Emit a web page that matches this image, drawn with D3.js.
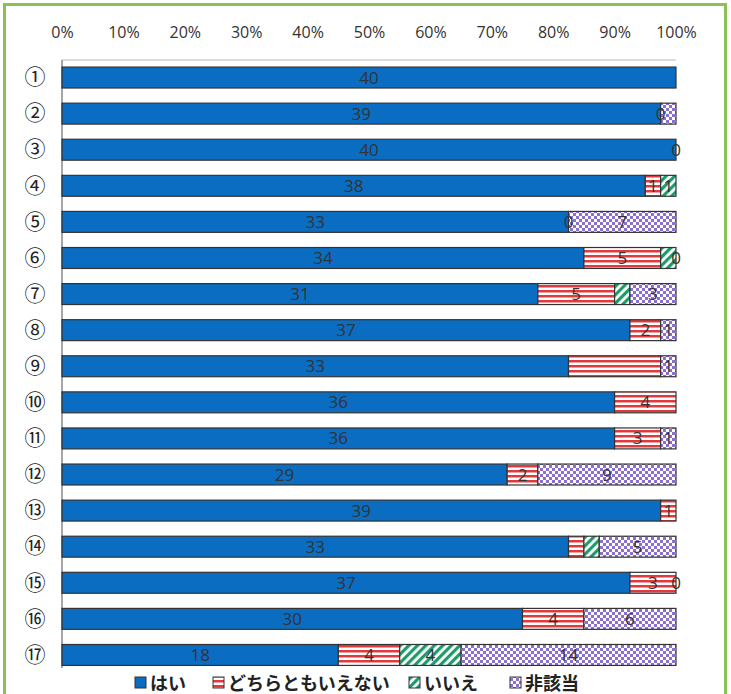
<!DOCTYPE html>
<html><head><meta charset="utf-8">
<script src="https://cdn.jsdelivr.net/npm/d3@7"></script>
<style>body{margin:0;background:#fff}</style>
</head><body>
<script>
const categories = ["①","②","③","④","⑤","⑥","⑦","⑧","⑨","⑩","⑪","⑫","⑬","⑭","⑮","⑯","⑰"];
const seriesNames = ["はい","どちらともいえない","いいえ","非該当"];
const hai     = [40,39,40,38,33,34,31,37,33,36,36,29,39,33,37,30,18];
const dochira = [null,0,null,1,0,5,5,2,6,4,3,2,1,1,3,4,4];
const iie     = [null,null,null,1,null,1,1,null,null,null,null,null,null,1,null,null,4];
const higaito = [null,1,0,null,7,0,3,1,1,null,1,9,null,5,0,6,14];
// data labels that the original does not show: [row index, series index]
const unlabeled = [[1,3],[5,2],[6,2],[8,1],[13,1],[13,2]];
const tickLabels = ["0%","10%","20%","30%","40%","50%","60%","70%","80%","90%","100%"];
const ticks = [0,0.1,0.2,0.3,0.4,0.5,0.6,0.7,0.8,0.9,1];
const series = [hai, dochira, iie, higaito];

const W=731,H=694;
const svg=d3.select("body").append("svg").attr("width",W).attr("height",H);
const defs=svg.append("defs");
const pr=defs.append("pattern").attr("id","p1").attr("patternUnits","userSpaceOnUse").attr("width",6).attr("height",5);
pr.append("rect").attr("width",6).attr("height",5).attr("fill","#fff");
pr.append("rect").attr("y",0).attr("width",6).attr("height",2.5).attr("fill","#e0393e");
const pg=defs.append("pattern").attr("id","p2").attr("patternUnits","userSpaceOnUse").attr("width",6).attr("height",6).attr("patternTransform","rotate(45)");
pg.append("rect").attr("width",6).attr("height",6).attr("fill","#fff");
pg.append("rect").attr("width",3.2).attr("height",6).attr("fill","#1f9a6a");
const pp=defs.append("pattern").attr("id","p3").attr("patternUnits","userSpaceOnUse").attr("width",6).attr("height",6);
pp.append("rect").attr("width",6).attr("height",6).attr("fill","#fff");
pp.append("rect").attr("width",3).attr("height",3).attr("fill","#8a6fd0");
pp.append("rect").attr("x",3).attr("y",3).attr("width",3).attr("height",3).attr("fill","#8a6fd0");
const fills=["#0a6dc2","url(#p1)","url(#p2)","url(#p3)"];

svg.append("rect").attr("x",4.5).attr("y",4.5).attr("width",721).attr("height",700)
  .attr("fill","none").attr("stroke","#8cc155").attr("stroke-width",3);

const x=d3.scaleLinear().domain([0,1]).range([62,676]);
const y=d3.scaleBand().domain(categories).range([59.5,673]).paddingInner(0.42).paddingOuter(0.21);

const ax=svg.append("g").attr("transform","translate(0,38)")
  .call(d3.axisTop(x).tickValues(ticks).tickFormat((d,i)=>tickLabels[i]).tickSize(0).tickPadding(0));
ax.select(".domain").remove();
ax.selectAll("text").attr("font-family","'Liberation Sans Narrow','Open Sans',sans-serif").attr("font-size",16).attr("fill","#333");

svg.append("line").attr("x1",x(0)).attr("x2",x(1)).attr("y1",60).attr("y2",60).attr("stroke","#bbb").attr("stroke-width",1);
svg.append("line").attr("x1",x(0)).attr("x2",x(0)).attr("y1",60).attr("y2",668).attr("stroke","#777").attr("stroke-width",1.3);

const yl=svg.append("g").attr("transform","translate(45,0)").call(d3.axisLeft(y).tickSize(0).tickPadding(0));
yl.select(".domain").remove();
yl.selectAll("text").attr("font-family","'Noto Sans CJK JP',sans-serif").attr("font-size",21).attr("fill","#222").attr("text-anchor","middle").attr("x",-10);

const isHidden=(i,k)=>unlabeled.some(p=>p[0]===i&&p[1]===k);
categories.forEach((c,i)=>{
  const total=series.reduce((s,a)=>s+(a[i]||0),0);
  let cum=0;
  series.forEach((arr,k)=>{
    const v=arr[i];
    if(v===null) return;
    const x0=x(cum/total), x1=x((cum+v)/total);
    if(v>0){
      svg.append("rect").attr("x",x0).attr("y",y(c)).attr("width",x1-x0).attr("height",y.bandwidth())
        .attr("fill",fills[k]).attr("stroke","#333").attr("stroke-width",1.2);
    }
    cum+=v;
  });
  cum=0;
  series.forEach((arr,k)=>{
    const v=arr[i];
    if(v===null) return;
    const cx=x((cum+v/2)/total);
    cum+=v;
    if(isHidden(i,k)) return;
    svg.append("text").attr("x",cx).attr("y",y(c)+y.bandwidth()/2+6)
      .attr("text-anchor","middle").attr("font-family","'Liberation Sans Narrow','Open Sans',sans-serif")
      .attr("font-size",17).attr("fill","#333").text(v);
  });
});

const legX=[135,213,409,510];
const lg=svg.append("g");
seriesNames.forEach((n,k)=>{
  lg.append("rect").attr("x",legX[k]).attr("y",677).attr("width",11).attr("height",11)
    .attr("fill",fills[k]).attr("stroke","#333").attr("stroke-width",1);
  lg.append("text").attr("x",legX[k]+15).attr("y",690).attr("font-family","'Noto Sans CJK JP',sans-serif")
    .attr("font-size",18).attr("font-weight","bold").attr("fill","#222").text(n);
});
</script>
</body></html>
